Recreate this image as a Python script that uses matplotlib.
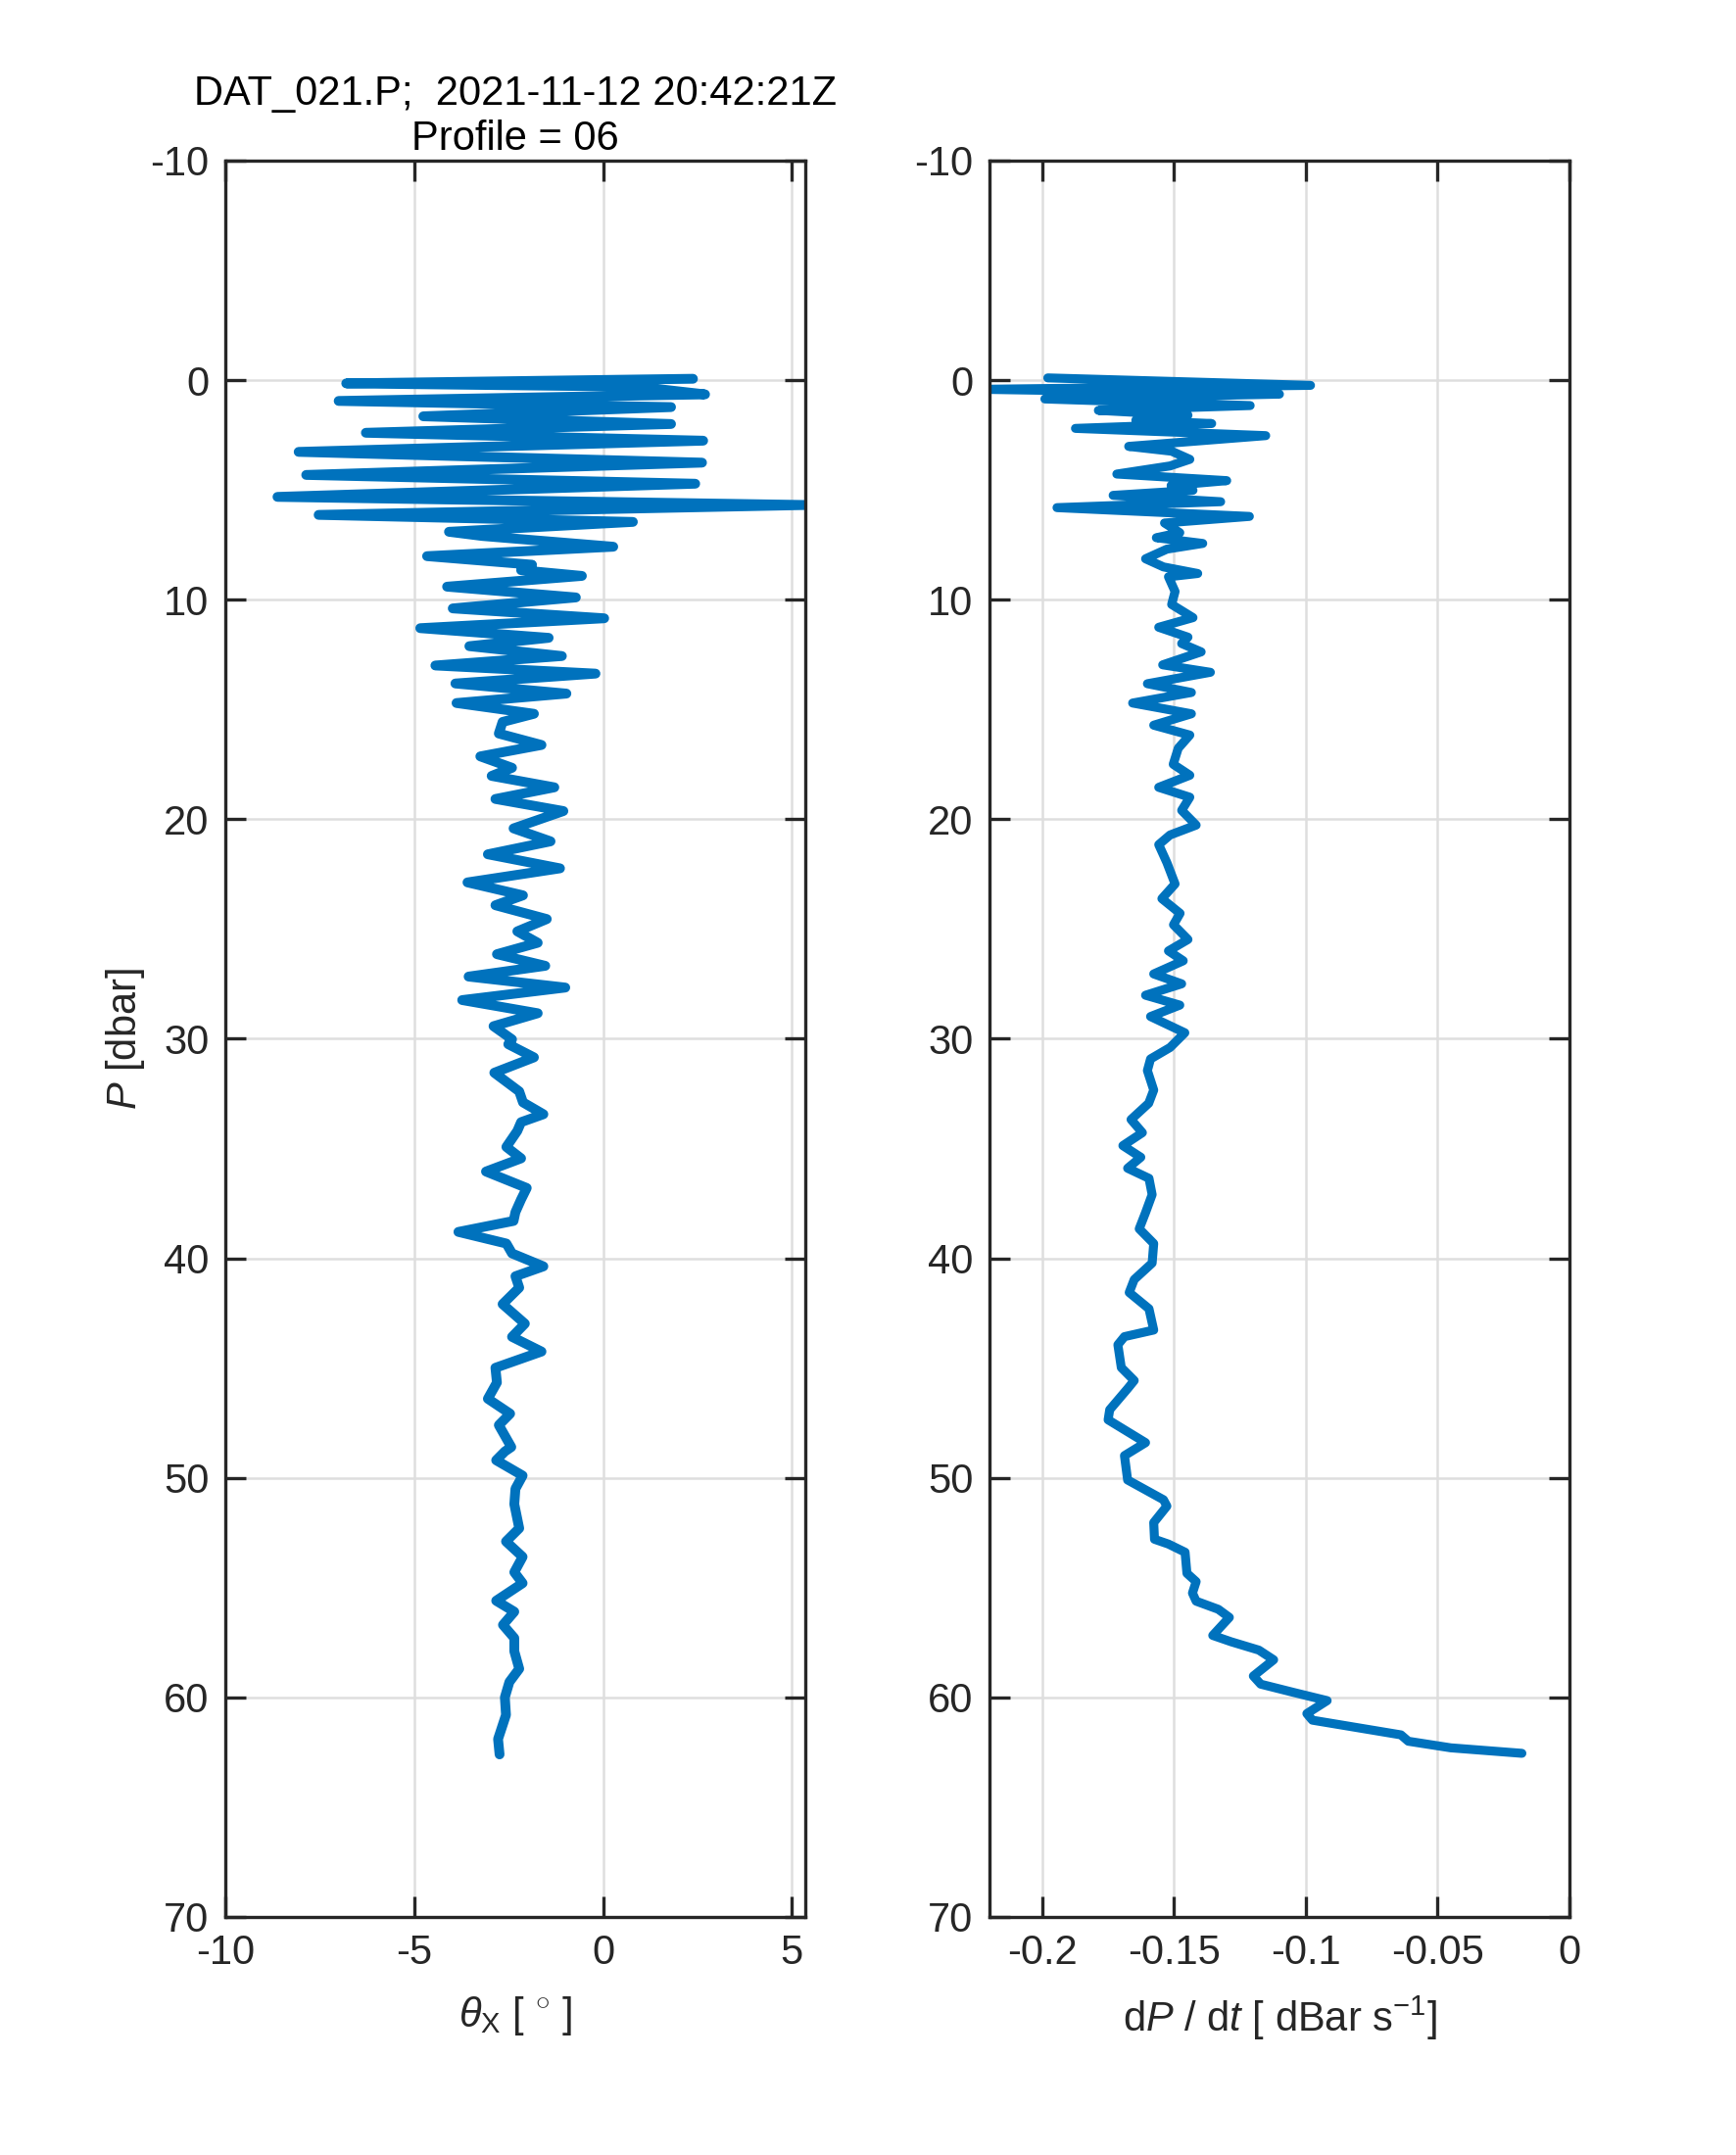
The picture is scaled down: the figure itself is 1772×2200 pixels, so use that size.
import matplotlib
matplotlib.use("Agg")
import matplotlib.pyplot as plt
import numpy as np

plt.rcParams['font.family'] = ['Liberation Sans', 'DejaVu Sans']
plt.rcParams['mathtext.fontset'] = 'custom'
plt.rcParams['mathtext.rm'] = 'Liberation Sans'
plt.rcParams['mathtext.it'] = 'Liberation Sans:italic'

# pitch angle theta_x [deg] vs pressure [dbar] (turning points)
theta_x = [2.38, -6.8, 0.9, 2.7, -7.0, 1.8, -4.76, 1.8, -6.28, 2.65, -8.06, 2.62,
           -7.86, 2.44, -8.62, 5.4, -7.53, 0.79, -4.08, -3.2, 0.27, -4.66, -1.88,
           -2.17, -0.56, -4.13, -0.72, -3.98, 0.03, -4.84, -1.44, -3.54, -1.09,
           -4.44, -0.2, -3.91, -0.97, -3.88,
           -1.83, -2.66, -2.76, -1.63, -3.25, -2.41, -2.95, -1.29, -2.85, -1.05,
           -2.37, -1.39, -3.05, -1.14, -3.59, -2.12, -2.85, -1.49, -2.27, -1.73,
           -2.81, -1.53, -3.56, -1.0, -3.73, -1.73, -2.9, -2.41, -2.51, -1.83,
           -2.88, -2.22, -2.12, -1.58, -2.17, -2.27, -2.56, -2.17, -3.1, -2.02,
           -2.17, -2.32, -2.37, -3.83, -2.56, -2.41, -1.58, -2.32, -2.22, -2.66,
           -2.07, -2.41, -1.63, -2.85, -2.81, -3.05, -2.46, -2.76,
           -2.43, -2.6, -2.83, -2.13, -2.32, -2.35, -2.22, -2.57, -2.13, -2.35,
           -2.13, -2.83, -2.35, -2.65, -2.35, -2.35, -2.22, -2.48, -2.6, -2.57,
           -2.78, -2.74]
p_theta = [-0.06, 0.15, 0.3, 0.65, 0.95, 1.23, 1.65, 2.0, 2.4, 2.76, 3.27, 3.76,
           4.32, 4.72, 5.32, 5.69, 6.14, 6.46, 6.91, 7.1, 7.59, 8.02, 8.41,
           8.66, 8.92, 9.41, 9.9, 10.4, 10.85, 11.3, 11.74, 12.12, 12.57,
           13.0, 13.37, 13.82, 14.28, 14.71,
           15.2, 15.57, 16.1, 16.62, 17.14, 17.66, 18.03, 18.55, 19.08, 19.63,
           20.42, 21.01, 21.6, 22.24, 22.88, 23.47, 23.92, 24.55, 25.11, 25.63,
           26.15, 26.68, 27.17, 27.67, 28.24, 28.84, 29.43, 30.03, 30.25, 30.85,
           31.55, 32.4, 32.9, 33.44, 33.8, 34.2, 34.93, 35.45, 36.05, 36.8,
           37.32, 37.9, 38.3, 38.8, 39.33, 39.78, 40.37, 40.82, 41.34, 42.09,
           42.98, 43.58, 44.25, 44.99, 45.66, 46.4, 47.08, 47.6,
           48.6, 48.8, 49.2, 49.9, 50.5, 51.2, 52.3, 52.9, 53.6, 54.3,
           54.8, 55.6, 56.1, 56.7, 57.3, 57.9, 58.7, 59.3, 60.0, 60.8,
           61.9, 62.6]

# fall rate dP/dt [dBar/s] vs pressure
dpdt = [-0.1979, -0.0982, -0.2230, -0.110, -0.199, -0.1211, -0.1787, -0.1447,
        -0.1645, -0.1357, -0.1874, -0.1152, -0.1672, -0.1509, -0.144, -0.1515,
        -0.1717, -0.130, -0.1511, -0.1428, -0.1731, -0.1323, -0.1944, -0.1214,
        -0.1536, -0.1478, -0.1567, -0.1391, -0.1527, -0.1608, -0.154, -0.141,
        -0.1521, -0.1496, -0.1509, -0.1428, -0.1558, -0.1447, -0.1471, -0.1397,
        -0.1543, -0.1362, -0.1601, -0.1434, -0.1657,
        -0.1434, -0.1577, -0.144, -0.1484, -0.1503, -0.144, -0.1558, -0.144,
        -0.1471, -0.1416, -0.1515, -0.1558, -0.1527, -0.1496, -0.1546, -0.1477,
        -0.1502, -0.1447, -0.1521, -0.1465, -0.1577, -0.1471, -0.1608, -0.1478,
        -0.1589, -0.1459, -0.1515, -0.1589, -0.1601, -0.1577, -0.1596, -0.1663,
        -0.162, -0.1694, -0.1626, -0.1676,
        -0.1595, -0.1583, -0.1608, -0.1632, -0.1577, -0.1583, -0.1651, -0.167,
        -0.1595, -0.1577, -0.1688, -0.1713, -0.170, -0.1651, -0.1676, -0.1744,
        -0.175, -0.1608, -0.1688, -0.1676, -0.154, -0.1527, -0.1577, -0.1574,
        -0.1521, -0.1458, -0.1451, -0.1416, -0.143, -0.1416, -0.1332, -0.129,
        -0.1353, -0.1283, -0.1178, -0.1122, -0.1199, -0.1171, -0.1045, -0.0919,
        -0.0996, -0.0975, -0.0639, -0.0611, -0.045, -0.018]
p_dpdt = [-0.1, 0.24, 0.42, 0.64, 0.86, 1.16, 1.38, 1.6,
          1.83, 1.98, 2.2, 2.53, 3.02, 3.24, 3.61, 3.91,
          4.28, 4.58, 4.8, 5.02, 5.25, 5.54, 5.81, 6.21,
          6.51, 6.95, 7.18, 7.44, 7.7, 8.14, 8.51, 8.81,
          8.96, 9.63, 10.22, 10.82, 11.26, 11.71, 12.0, 12.38,
          12.97, 13.31, 13.83, 14.23, 14.71,
          15.2, 15.72, 16.17, 16.77, 17.5, 18.0, 18.55, 19.0,
          19.6, 20.27, 20.72, 21.16, 21.98, 22.95, 23.62, 24.29,
          24.81, 25.48, 26.0, 26.45, 27.05, 27.5, 28.02, 28.47,
          28.99, 29.73, 30.4, 30.92, 31.45, 32.34, 32.94, 33.68,
          34.28, 34.87, 35.4, 35.9,
          36.36, 37.1, 37.92, 38.66, 39.33, 40.22, 40.97, 41.56,
          42.3, 43.27, 43.57, 43.94, 44.98, 45.57, 45.94, 46.9,
          47.36, 48.4, 48.99, 50.1, 51.0, 51.29, 52.04, 52.8,
          53.02, 53.39, 54.35, 54.73, 55.25, 55.62, 55.99, 56.36,
          57.18, 57.47, 57.85, 58.29, 59.03, 59.4, 59.78, 60.15,
          60.74, 61.04, 61.71, 62.0, 62.3, 62.55]

title_txt = 'DAT_021.P;  2021-11-12 20:42:21Z\nProfile = 06'
p_ticks = list(range(-10, 80, 10))
theta_ticks = [-10, -5, 0, 5]
dpdt_ticks = [-0.2, -0.15, -0.1, -0.05, 0]
dpdt_ticklabels = ['-0.2', '-0.15', '-0.1', '-0.05', '0']

line_col = '#0072BD'
ax_col = '#262626'

fig = plt.figure(figsize=(8.86, 11), dpi=200)
ax1 = fig.add_axes([0.1298, 0.1105, 0.334, 0.815])
ax2 = fig.add_axes([0.570, 0.1105, 0.334, 0.815])

def style(ax):
    ax.set_ylim(70, -10)
    ax.set_yticks(p_ticks)
    ax.set_yticklabels([str(t) for t in p_ticks])
    ax.grid(True, color='#dedede', linewidth=0.9)
    ax.set_axisbelow(True)
    ax.tick_params(direction='in', length=7.5, width=1.2, colors=ax_col,
                   labelcolor=ax_col, labelsize=15, top=True, right=True, pad=6)
    for s in ax.spines.values():
        s.set_linewidth(1.2)
        s.set_color(ax_col)

ax1.plot(theta_x, p_theta, color=line_col, lw=3.6, solid_joinstyle='round',
         solid_capstyle='round')
style(ax1)
ax1.set_xlim(-10, 5.35)
ax1.set_xticks(theta_ticks)
ax1.set_xticklabels([str(t) for t in theta_ticks])
ax1.set_xlabel(r'$\theta_{\mathrm{X}}$ [ $^{\circ}$ ]', fontsize=15, color=ax_col, labelpad=8)
ax1.set_ylabel(r'$P$ [dbar]', fontsize=15, color=ax_col, labelpad=1)
ax1.set_title(title_txt, fontsize=15, color='black', pad=4, linespacing=1.2)

ax2.plot(dpdt, p_dpdt, color=line_col, lw=3.3, solid_joinstyle='round',
         solid_capstyle='round')
style(ax2)
ax2.set_xlim(-0.22, 0)
ax2.set_xticks(dpdt_ticks)
ax2.set_xticklabels(dpdt_ticklabels)
ax2.set_xlabel(r'd$P$ / d$t$ [ dBar s$^{-1}$]', fontsize=15, color=ax_col, labelpad=8)

fig.savefig('out.png', dpi=200)
